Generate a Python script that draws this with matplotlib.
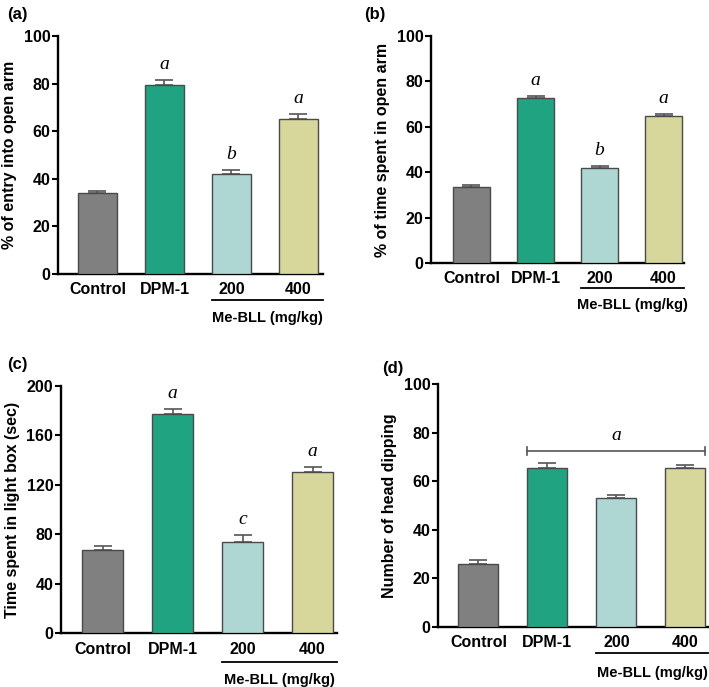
import matplotlib
matplotlib.use("Agg")
import matplotlib.pyplot as plt
import matplotlib.transforms as mtransforms

categories = ["Control", "DPM-1", "200", "400"]
group_label = "Me-BLL (mg/kg)"
colors = ["#808080", "#20a381", "#aed7d3", "#d7d79b"]

a_vals = [34.0, 79.5, 42.0, 65.0]
a_err = [0.8, 2.0, 1.7, 2.3]
a_sig = ["", "a", "b", "a"]

b_vals = [33.3, 72.7, 42.0, 64.8]
b_err = [1.0, 0.8, 0.8, 0.8]
b_sig = ["", "a", "b", "a"]

c_vals = [67.5, 177.0, 73.5, 130.5]
c_err = [3.0, 4.0, 6.0, 3.5]
c_sig = ["", "a", "c", "a"]

d_vals = [26.0, 65.5, 53.2, 65.5]
d_err = [1.5, 1.8, 1.0, 1.1]
d_bracket_y = 72.4
d_bracket_sig = "a"

panels = [
    dict(tag="(a)", vals=a_vals, err=a_err, sig=a_sig, ylabel="% of entry into open arm",
         yticks=[0, 20, 40, 60, 80, 100], rect=[58.3, 36, 323, 274], xlim=(-0.585, 3.366),
         tagxy=(7, 15), lab=-0.109, txt=-0.185),
    dict(tag="(b)", vals=b_vals, err=b_err, sig=b_sig, ylabel="% of time spent in open arm",
         yticks=[0, 20, 40, 60, 80, 100], rect=[431.3, 36, 684, 263], xlim=(-0.628, 3.32),
         tagxy=(364, 15), lab=-0.110, txt=-0.185),
    dict(tag="(c)", vals=c_vals, err=c_err, sig=c_sig, ylabel="Time spent in light box (sec)",
         yticks=[0, 40, 80, 120, 160, 200], rect=[61, 385.7, 337, 633.3], xlim=(-0.593, 3.35),
         tagxy=(7, 365), lab=-0.115, txt=-0.189),
    dict(tag="(d)", vals=d_vals, err=d_err, sig=None, ylabel="Number of head dipping",
         yticks=[0, 20, 40, 60, 80, 100], rect=[438, 384, 708, 627], xlim=(-0.587, 3.33),
         tagxy=(382, 368), lab=-0.107, txt=-0.189),
]

W, H = 709, 687
fig = plt.figure(figsize=(W / 100, H / 100), dpi=100)
plt.rcParams['font.family'] = ['Liberation Sans', 'DejaVu Sans']

bar_w = 0.58
edge = "#4a4a4a"
errc = "#555555"

for p in panels:
    l, t, r, b = p["rect"]
    ax = fig.add_axes([l / W, 1 - b / H, (r - l) / W, (b - t) / H])
    x = list(range(len(categories)))
    ax.bar(x, p["vals"], width=bar_w, color=colors, edgecolor=edge, linewidth=1.0, zorder=3)
    ax.errorbar(x, p["vals"], yerr=[[0] * 4, p["err"]], fmt="none", ecolor=errc,
                elinewidth=1.2, capsize=6.5, capthick=1.2, zorder=2)
    ax.set_xlim(*p["xlim"])
    ax.set_ylim(0, p["yticks"][-1])
    ax.set_yticks(p["yticks"])
    ax.set_xticks(x)
    ax.set_xticklabels(categories, fontweight="bold", fontsize=11.5)
    ax.tick_params(axis="x", length=0, pad=6)
    ax.tick_params(axis="y", length=4, width=1.5, direction="out", labelsize=11.5, pad=1.5)
    for lbl in ax.get_yticklabels():
        lbl.set_fontweight("bold")
    for s in ["top", "right"]:
        ax.spines[s].set_visible(False)
    for s in ["left", "bottom"]:
        ax.spines[s].set_linewidth(1.7)
    ax.set_ylabel(p["ylabel"], fontweight="bold", fontsize=11.5, labelpad=5)

    trans = mtransforms.blended_transform_factory(ax.transData, ax.transAxes)
    x0 = 2 - bar_w / 2
    x1 = p["xlim"][1]
    ax.plot([x0, x1], [p["lab"], p["lab"]], color="black", lw=1.3, transform=trans, clip_on=False)
    ax.text((x0 + x1) / 2, p["txt"], group_label, transform=trans, ha="center", va="center",
            fontweight="bold", fontsize=10.5)

    if p["sig"] is not None:
        for xi, v, e, s in zip(x, p["vals"], p["err"], p["sig"]):
            if s:
                ax.annotate(s, (xi, v + e), xytext=(0, 5), textcoords="offset points",
                            ha="center", va="bottom", fontsize=14, fontstyle="italic",
                            family=["Liberation Serif", "DejaVu Serif"])
    else:
        bx0 = 1 - bar_w / 2
        bx1 = 3 + bar_w / 2
        ax.plot([bx0, bx1], [d_bracket_y, d_bracket_y], color=errc, lw=1.2, zorder=4)
        for bx in (bx0, bx1):
            ax.plot([bx, bx], [d_bracket_y - 1.5, d_bracket_y + 1.5], color=errc, lw=1.2, zorder=4)
        ax.annotate(d_bracket_sig, ((bx0 + bx1) / 2, d_bracket_y), xytext=(0, 5),
                    textcoords="offset points", ha="center", va="bottom", fontsize=14,
                    fontstyle="italic", family=["Liberation Serif", "DejaVu Serif"])

    fig.text(p["tagxy"][0] / W, 1 - p["tagxy"][1] / H, p["tag"], fontweight="bold",
             fontsize=12, ha="left", va="center")

fig.savefig("out.png", dpi=100)
